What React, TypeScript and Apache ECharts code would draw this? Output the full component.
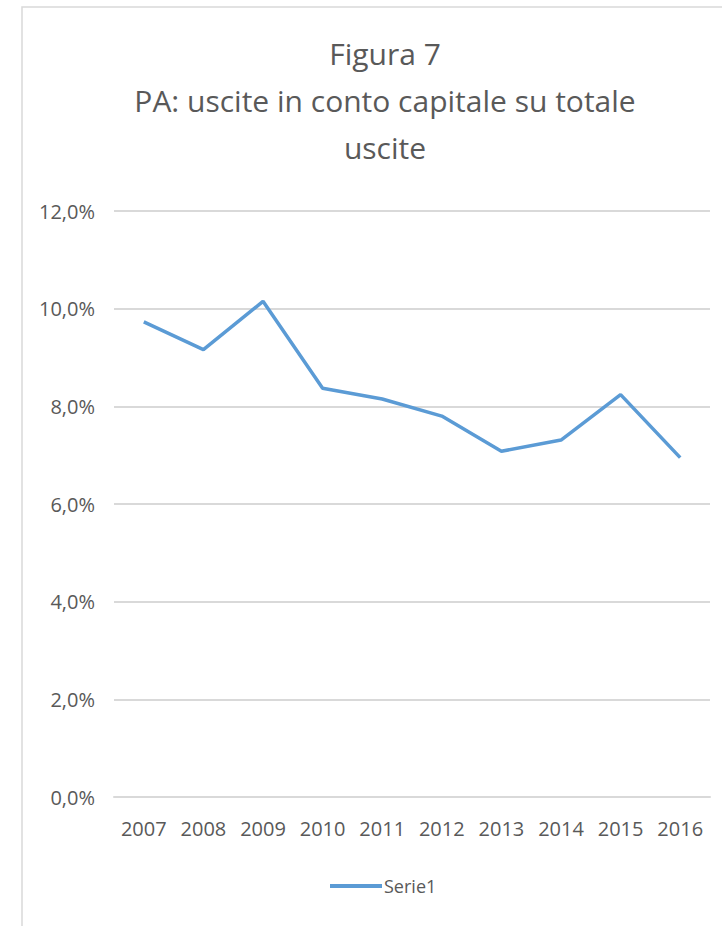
import React, { useEffect, useRef } from "react";
import * as echarts from "echarts";

const years = ["2007", "2008", "2009", "2010", "2011", "2012", "2013", "2014", "2015", "2016"];
const serie1 = [9.73, 9.16, 10.15, 8.37, 8.15, 7.8, 7.08, 7.31, 8.24, 6.95];
const titleLines = ["Figura 7", "PA: uscite in conto capitale su totale", "uscite"];
const seriesName = "Serie1";

export default function App() {
  const ref = useRef<HTMLDivElement>(null);
  useEffect(() => {
    if (!ref.current) return;
    const chart = echarts.init(ref.current, undefined, { renderer: "svg" });
    const font = "'Open Sans', 'Liberation Sans', sans-serif";
    chart.setOption({
      animation: false,
      backgroundColor: "#ffffff",
      graphic: [
        {
          type: "rect",
          shape: { x: 22, y: 7, width: 900, height: 1000 },
          style: { fill: "none", stroke: "#d9d9d9", lineWidth: 1.5 },
          silent: true,
        },
      ],
      title: {
        text: titleLines.join("\n"),
        left: 380,
        textAlign: "center",
        top: 25,
        textStyle: {
          fontFamily: font,
          fontSize: 30,
          fontWeight: "normal",
          color: "#595959",
          lineHeight: 47,
        },
      },
      legend: {
        data: [seriesName],
        left: 325,
        top: 872,
        icon: "rect",
        itemWidth: 52,
        itemHeight: 4,
        itemGap: 4,
        textStyle: { fontFamily: font, fontSize: 18, color: "#595959", padding: [0, 0, 0, -3] },
      },
      grid: { left: 114, right: 12, top: 211, bottom: 129 },
      xAxis: {
        type: "category",
        data: years,
        boundaryGap: true,
        axisLine: { lineStyle: { color: "#d9d9d9", width: 2 } },
        axisTick: { show: false },
        axisLabel: { fontFamily: font, fontSize: 20, color: "#595959", margin: 21 },
      },
      yAxis: {
        type: "value",
        min: 0,
        max: 12,
        interval: 2,
        axisLine: { show: false },
        axisTick: { show: false },
        splitLine: { lineStyle: { color: "#d9d9d9", width: 2 } },
        axisLabel: {
          fontFamily: font,
          fontSize: 20,
          color: "#595959",
          margin: 19,
          formatter: (v: number) => v.toFixed(1).replace(".", ",") + "%",
        },
      },
      series: [
        {
          name: seriesName,
          type: "line",
          data: serie1,
          showSymbol: false,
          symbol: "none",
          lineStyle: { color: "#5b9bd5", width: 3.5 },
          itemStyle: { color: "#5b9bd5" },
        },
      ],
    });
    return () => chart.dispose();
  }, []);
  return (
    <div
      ref={ref}
      style={{ position: "fixed", left: 0, top: 0, width: 722, height: 926 }}
    />
  );
}
